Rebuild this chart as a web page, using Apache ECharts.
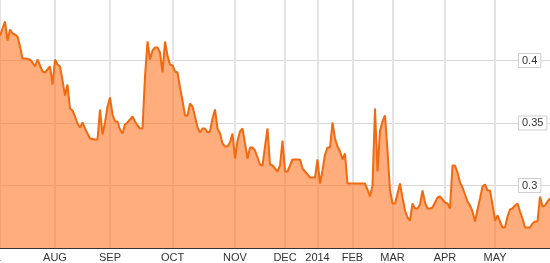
<!DOCTYPE html>
<html>
<head>
<meta charset="utf-8">
<script src="https://cdn.jsdelivr.net/npm/echarts@6/dist/echarts.min.js"></script>
<style>
html,body{margin:0;padding:0;background:#fff;}
#chart{width:550px;height:263px;}
</style>
</head>
<body>
<div id="chart"></div>
<script>
const monthNames = ['JUL','AUG','SEP','OCT','NOV','DEC','2014','FEB','MAR','APR','MAY'];
const jul = [0.420,0.4256,0.4312,0.416,0.4248,0.4216,0.4208,0.4192,0.4112,0.4016,0.4016,0.4012,0.4008,0.3984,0.3952,0.4008,0.396,0.3912,0.3904,0.3928,0.3952,0.3808];
const aug = [0.4008,0.3968,0.3952,0.384,0.372,0.3808,0.3616,0.360,0.3552,0.3496,0.3464,0.3504,0.3456,0.3416,0.3376,0.3372,0.3368,0.3368,0.3608,0.3408,0.3504,0.3632];
const sep = [0.3704,0.3568,0.3512,0.3512,0.3448,0.3416,0.3488,0.3504,0.3528,0.3552,0.3512,0.348,0.3456,0.3456,0.3872,0.4152,0.4008,0.408,0.4104,0.4104,0.4064,0.3904,0.4152,0.404,0.3968];
const oct = [0.396,0.3912,0.3904,0.3784,0.368,0.356,0.356,0.3656,0.3632,0.3552,0.3464,0.3424,0.3456,0.3456,0.3424,0.3432,0.3536,0.3608,0.3456,0.3416,0.3336,0.3312,0.3312,0.3344,0.3416];
const nov = [0.3216,0.336,0.3432,0.3456,0.3336,0.3216,0.3304,0.3304,0.328,0.3224,0.3168,0.316,0.3312,0.3456,0.3168,0.316,0.3136,0.3112,0.316,0.336];
const dec = [0.3112,0.3112,0.316,0.3208,0.3208,0.3208,0.3208,0.3136,0.3112,0.3088,0.3064,0.3064,0.3064];
const jan = [0.3208,0.3016,0.312,0.3248,0.3304,0.3304,0.3504,0.3376,0.3312,0.3272,0.3208,0.3256,0.3016,0.3016];
const feb = [0.3016,0.3016,0.3016,0.3016,0.3016,0.3016,0.2968,0.2912,0.300,0.3616,0.3112,0.344,0.3512,0.356,0.328,0.296];
const mar = [0.2856,0.2856,0.2936,0.3016,0.2904,0.280,0.2744,0.272,0.2856,0.2816,0.2816,0.2848,0.296,0.2864,0.2816,0.2816,0.2824,0.2864,0.2904,0.2912,0.2888];
const apr = [0.2864,0.2856,0.2816,0.316,0.316,0.3104,0.3024,0.2984,0.2928,0.2872,0.284,0.2792,0.2712,0.2808,0.2896,0.2992,0.3008,0.296,0.296,0.2848];
const may = [0.272,0.276,0.2712,0.2664,0.2664,0.2752,0.2808,0.2816,0.284,0.2856,0.2792,0.2736,0.2664,0.2664,0.2664,0.2696,0.2712,0.2712,0.2912,0.2832,0.284,0.2872,0.2896];
const yTicks = [0.25, 0.3, 0.35, 0.4, 0.45];

const months = [jul, aug, sep, oct, nov, dec, jan, feb, mar, apr, may];
const categories = [];
const values = [];
const labelIdx = new Set();
months.forEach((arr, m) => {
  arr.forEach((v, j) => {
    if (j === 0) labelIdx.add(categories.length);
    categories.push(monthNames[m] + '-' + j);
    values.push(v);
  });
});
const isMonthStart = (i) => labelIdx.has(i);

const chart = echarts.init(document.getElementById('chart'), null, {renderer: 'canvas'});
chart.setOption({
  animation: false,
  grid: {left: 0, right: 0, top: -2, bottom: 15, containLabel: false, outerBoundsMode: 'none'},
  xAxis: {
    type: 'category',
    data: categories,
    boundaryGap: false,
    axisLine: {show: true, lineStyle: {color: '#333', width: 1}},
    axisTick: {show: false},
    axisLabel: {
      interval: isMonthStart,
      margin: 4,
      color: '#333',
      fontSize: 11,
      fontFamily: 'Liberation Sans, Arial, sans-serif',
      formatter: (val, idx) => {
        const name = val.split('-')[0];
        return idx === 0 ? '{cut|' + name + '}' : name;
      },
      rich: {cut: {padding: [0, 18, 0, 0], fontSize: 11, color: '#333', fontFamily: 'Liberation Sans, Arial, sans-serif'}}
    },
    splitLine: {show: true, interval: isMonthStart, lineStyle: {color: '#e4e4e4', width: 2}}
  },
  yAxis: {
    type: 'value',
    position: 'right',
    min: yTicks[0],
    max: yTicks[yTicks.length - 1],
    interval: 0.05,
    axisLine: {show: false},
    axisTick: {show: false},
    splitLine: {show: true, lineStyle: {color: '#d8d8d8', width: 1}},
    axisLabel: {
      showMinLabel: false,
      showMaxLabel: false,
      inside: false,
      margin: -31,
      color: '#333',
      fontSize: 11,
      fontFamily: 'Liberation Sans, Arial, sans-serif',
      backgroundColor: '#fff',
      borderColor: '#cfcfcf',
      borderWidth: 1,
      padding: [1, 3, 1, 3],
      formatter: (v) => String(Math.round(v * 100) / 100)
    }
  },
  series: [{
    type: 'line',
    data: values,
    symbol: 'none',
    smooth: false,
    lineStyle: {color: '#ef6a10', width: 2},
    areaStyle: {color: 'rgba(255,118,38,0.6)', opacity: 1, origin: 'start'}
  }]
});
</script>
</body>
</html>
